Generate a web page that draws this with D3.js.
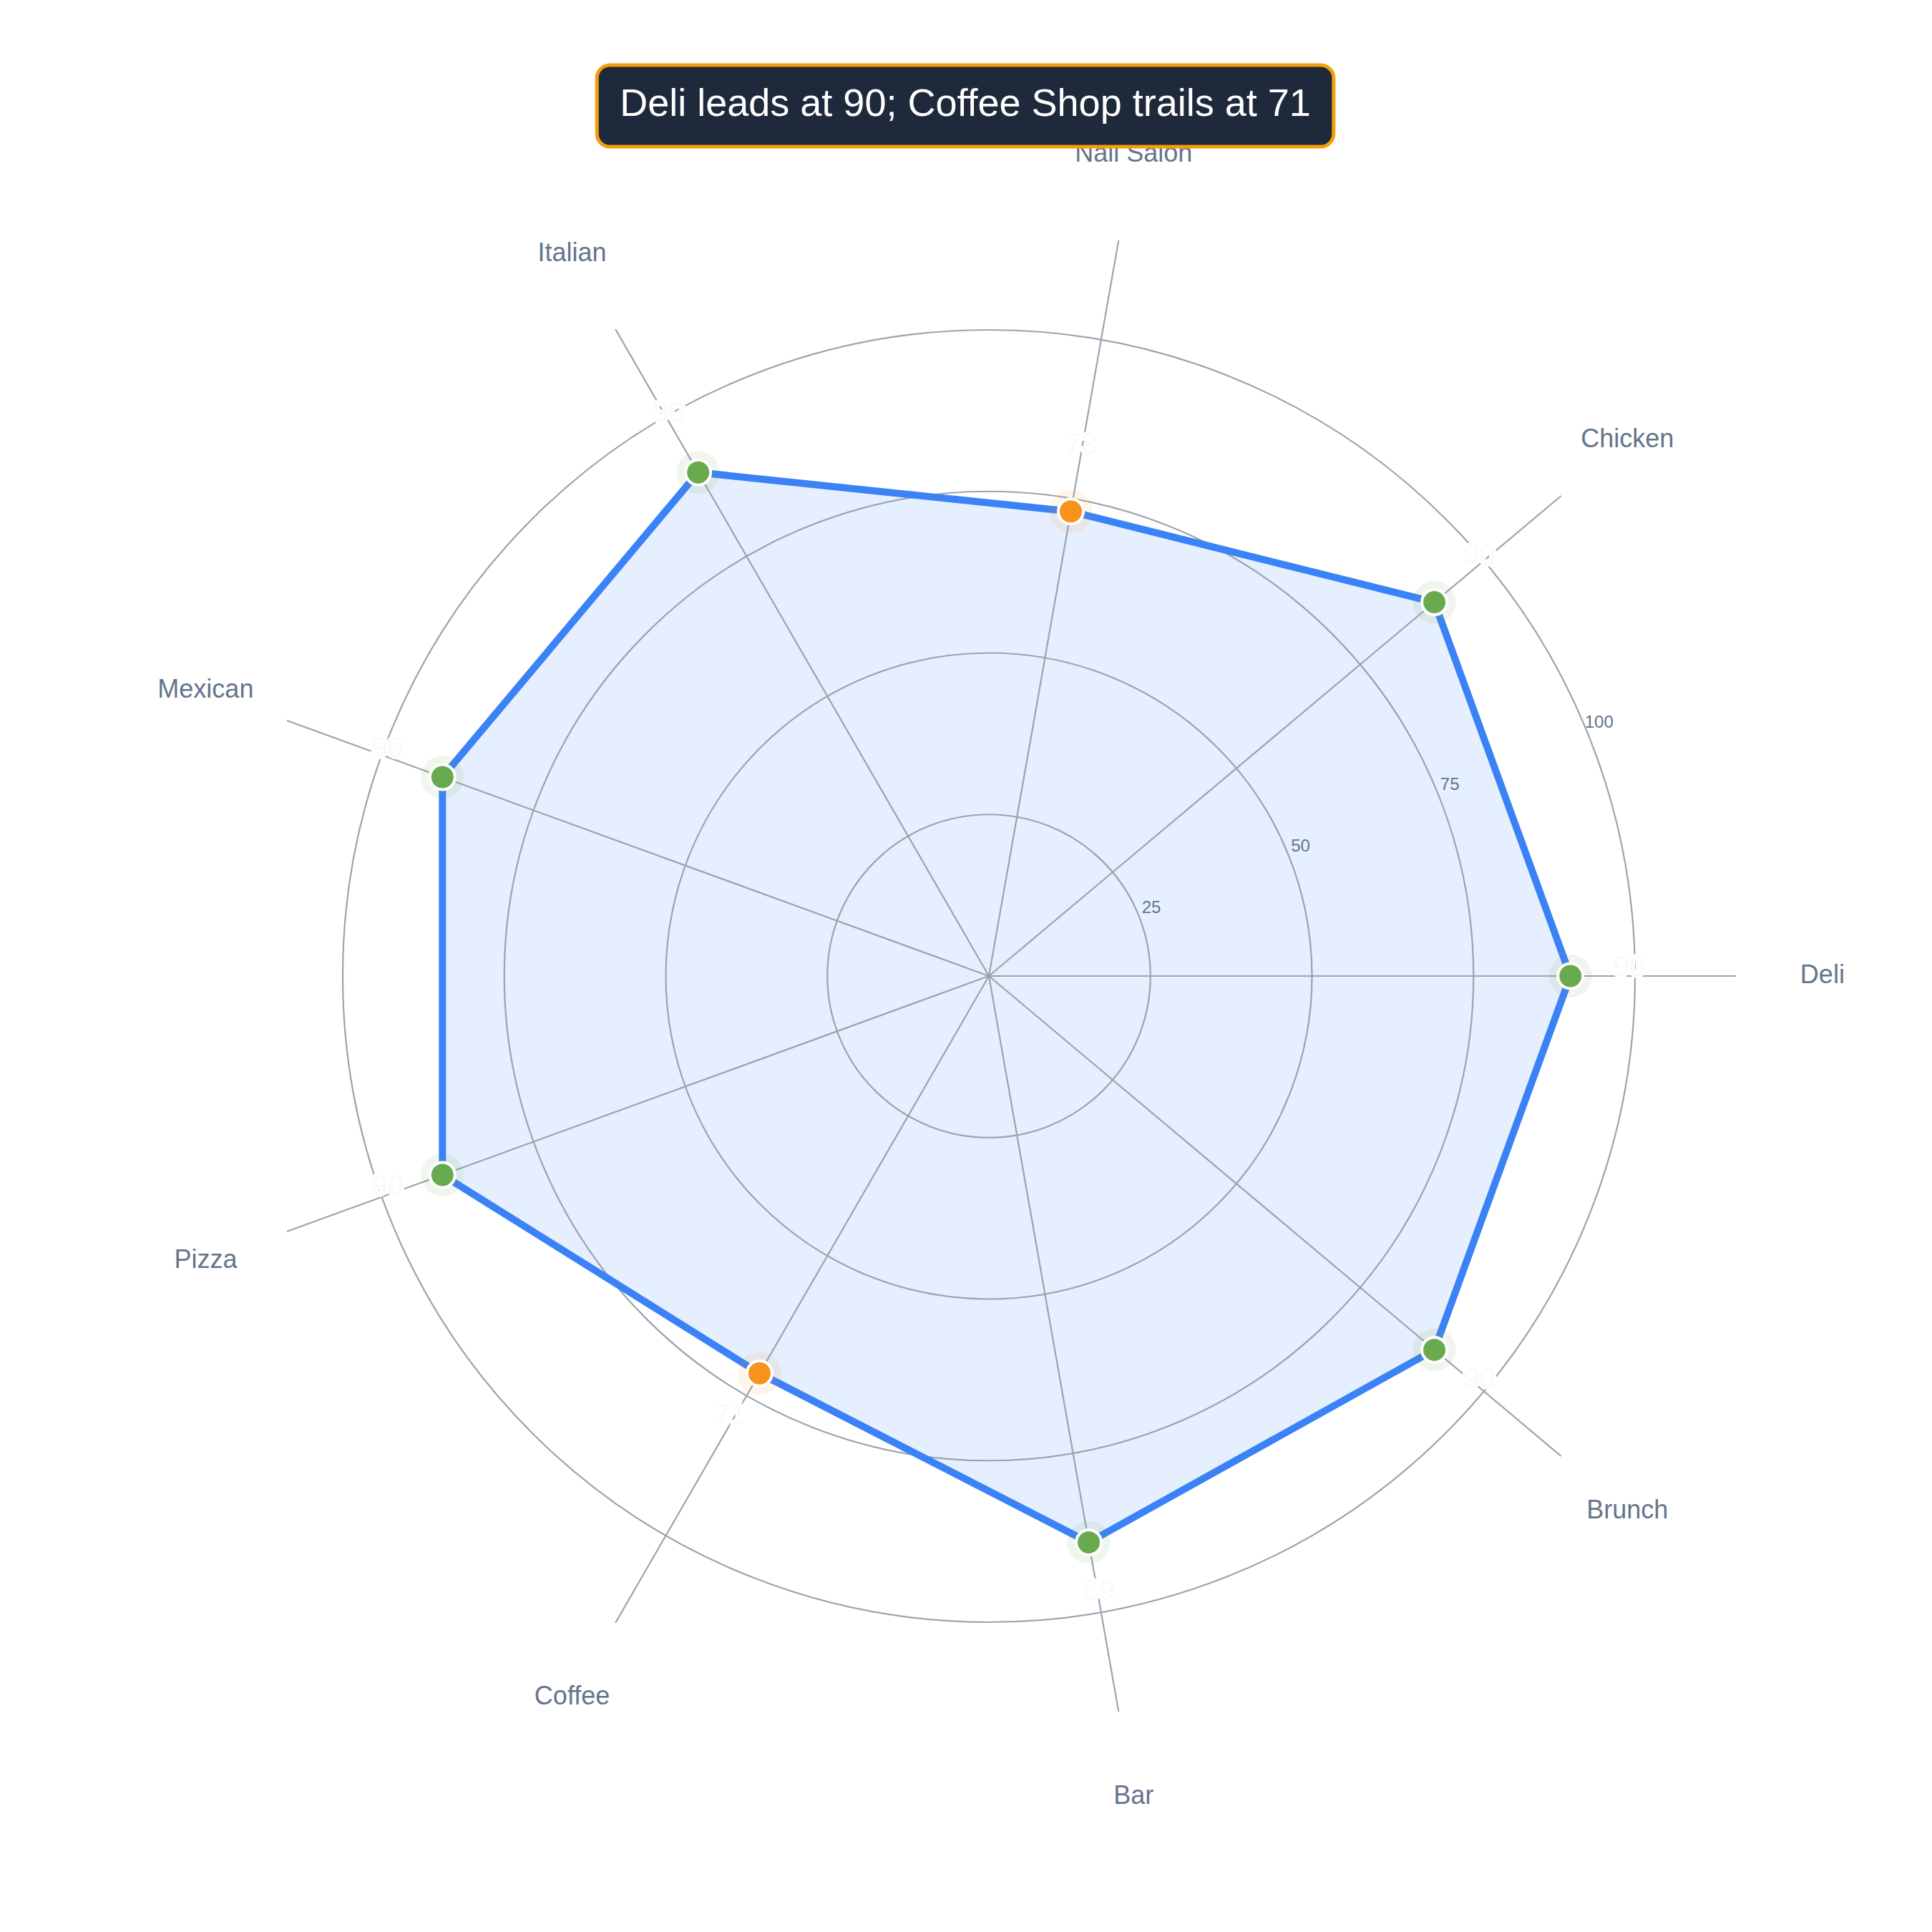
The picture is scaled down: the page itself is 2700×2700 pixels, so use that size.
<!DOCTYPE html>
<html>
<head>
<meta charset="utf-8">
<script src="https://cdn.jsdelivr.net/npm/d3@7"></script>
<style>
  html, body { margin: 0; padding: 0; background: #ffffff; }
  svg { display: block; font-family: "Liberation Sans", Arial, Helvetica, sans-serif; }
</style>
</head>
<body>
<svg id="chart"></svg>
<script>
// radar of scores per venue type
const categories = ["Deli", "Chicken", "Nail Salon", "Italian", "Mexican", "Pizza", "Coffee", "Bar", "Brunch"];
const scores = [90, 90, 73, 90, 90, 90, 71, 89, 90];
const tickValues = [25, 50, 75, 100];
const lowThreshold = 80;
const titleText = "Deli leads at 90; Coffee Shop trails at 71";

const width = 2700, height = 2700;
const cx = 1382, cy = 1364, R = 903;

const svg = d3.select("#chart")
  .attr("width", width)
  .attr("height", height)
  .attr("viewBox", "0 0 " + width + " " + height);

svg.append("rect").attr("width", width).attr("height", height).attr("fill", "#ffffff");

const r = d3.scaleLinear().domain([0, 100]).range([0, R]);
// angle in d3 radial convention (0 = up, clockwise); Deli points east, others go counter-clockwise
const ang = d3.scaleLinear().domain([0, categories.length]).range([Math.PI / 2, Math.PI / 2 - 2 * Math.PI]);

const data = categories.map(function(c, i) { return { cat: c, value: scores[i], i: i }; });

function px(a, rad) { return rad * Math.sin(a); }
function py(a, rad) { return -rad * Math.cos(a); }

const g = svg.append("g").attr("transform", "translate(" + cx + "," + cy + ")");

const radarLine = d3.lineRadial()
  .angle(function(d) { return ang(d.i); })
  .radius(function(d) { return r(d.value); })
  .curve(d3.curveLinearClosed);

// filled area
g.append("path")
  .datum(data)
  .attr("d", radarLine)
  .attr("fill", "#3b82f6")
  .attr("fill-opacity", 0.13)
  .attr("stroke", "none");

// rings
g.selectAll(".ring")
  .data(tickValues)
  .enter().append("circle")
  .attr("class", "ring")
  .attr("r", function(d) { return r(d); })
  .attr("fill", "none")
  .attr("stroke", "#9ca3af")
  .attr("stroke-width", 2.2);

// spokes
g.selectAll(".spoke")
  .data(data)
  .enter().append("line")
  .attr("class", "spoke")
  .attr("x1", 0).attr("y1", 0)
  .attr("x2", function(d) { return px(ang(d.i), R * 1.156); })
  .attr("y2", function(d) { return py(ang(d.i), R * 1.156); })
  .attr("stroke", "#9ca3af")
  .attr("stroke-width", 2.2);

// tick labels
g.selectAll(".tick")
  .data(tickValues)
  .enter().append("text")
  .attr("class", "tick")
  .attr("x", function(d) { return (r(d) + 20) * Math.cos(Math.PI / 8); })
  .attr("y", function(d) { return -(r(d) + 20) * Math.sin(Math.PI / 8); })
  .attr("text-anchor", "middle")
  .attr("dominant-baseline", "middle")
  .attr("font-size", 24)
  .attr("fill", "#64748b")
  .text(function(d) { return d; });

// category labels
g.selectAll(".cat")
  .data(data)
  .enter().append("text")
  .attr("class", "cat")
  .attr("x", function(d) { return px(ang(d.i), R * 1.29); })
  .attr("y", function(d) { return py(ang(d.i), R * 1.29); })
  .attr("text-anchor", "middle")
  .attr("dominant-baseline", "middle")
  .attr("font-size", 36)
  .attr("fill", "#64748b")
  .text(function(d) { return d.cat; });

// outline
g.append("path")
  .datum(data)
  .attr("d", radarLine)
  .attr("fill", "none")
  .attr("stroke", "#3b82f6")
  .attr("stroke-width", 10)
  .attr("stroke-linejoin", "round");

function colorOf(d) { return d.value < lowThreshold ? "#f5931a" : "#6aaa4f"; }

// halos
g.selectAll(".halo")
  .data(data)
  .enter().append("circle")
  .attr("class", "halo")
  .attr("cx", function(d) { return px(ang(d.i), r(d.value)); })
  .attr("cy", function(d) { return py(ang(d.i), r(d.value)); })
  .attr("r", 30)
  .attr("fill", colorOf)
  .attr("fill-opacity", 0.1);

// points
g.selectAll(".dot")
  .data(data)
  .enter().append("circle")
  .attr("class", "dot")
  .attr("cx", function(d) { return px(ang(d.i), r(d.value)); })
  .attr("cy", function(d) { return py(ang(d.i), r(d.value)); })
  .attr("r", 17.5)
  .attr("fill", colorOf)
  .attr("stroke", "#ffffff")
  .attr("stroke-width", 4);

// value labels (very faint, white halo)
g.selectAll(".val")
  .data(data)
  .enter().append("text")
  .attr("class", "val")
  .attr("x", function(d) { return px(ang(d.i), r(d.value) + 82); })
  .attr("y", function(d) { return py(ang(d.i), r(d.value) + 82); })
  .attr("text-anchor", "middle")
  .attr("font-size", 40)
  .attr("fill", "#f8fafc")
  .attr("stroke", "#ffffff")
  .attr("stroke-width", 6)
  .attr("paint-order", "stroke")
  .text(function(d) { return d.value; });

// title badge
const tg = svg.append("g").attr("transform", "translate(1349,148)");
const box = tg.append("rect")
  .attr("fill", "#1e293b")
  .attr("stroke", "#f59e0b")
  .attr("stroke-width", 5)
  .attr("rx", 18).attr("ry", 18);
const tt = tg.append("text")
  .attr("text-anchor", "middle")
  .attr("dominant-baseline", "middle")
  .attr("font-size", 54)
  .attr("fill", "#ffffff")
  .text(titleText);
const tw = tt.node().getComputedTextLength();
box.attr("x", -tw / 2 - 32).attr("y", -57).attr("width", tw + 64).attr("height", 114);
</script>
</body>
</html>
